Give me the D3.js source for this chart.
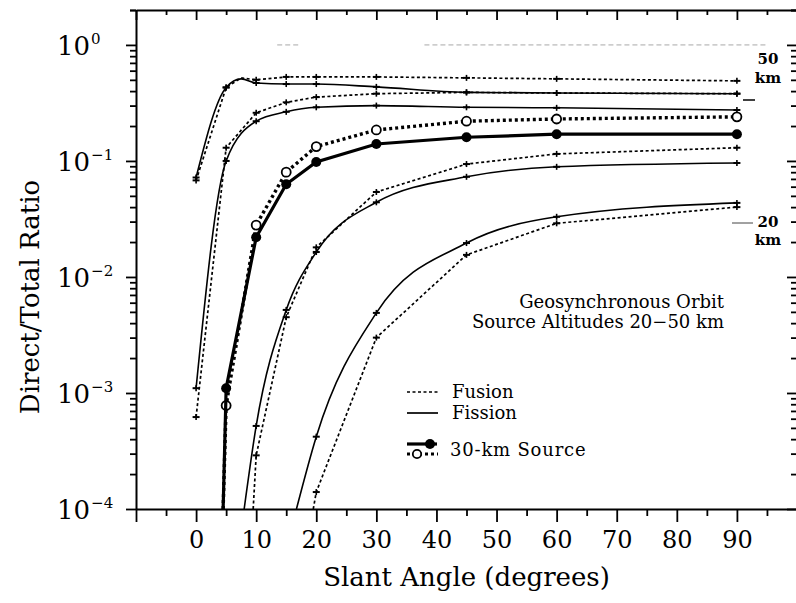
<!DOCTYPE html>
<html><head><meta charset="utf-8">
<script src="https://cdn.jsdelivr.net/npm/d3@7"></script>
<style>
html,body{margin:0;padding:0;background:#fff;}
svg text{font-family:"DejaVu Serif",serif;fill:#000;}
</style></head>
<body>
<svg id="chart" width="796" height="603"></svg>
<script>
// ---------- data ----------
const xTickLabels = [0,10,20,30,40,50,60,70,80,90];
const yTickExponents = [0,-1,-2,-3,-4];

// 50 km source
const fus50Angles = [0,5,7.5,10,15,20,30,45,60,90];
const fus50Values = [0.068,0.43,0.52,0.50,0.53,0.53,0.53,0.52,0.51,0.49];
const fis50Angles = [0,5,7.5,10,15,20,30,45,60,90];
const fis50Values = [0.072,0.43,0.51,0.47,0.46,0.46,0.435,0.39,0.385,0.38];
// 40 km source
const fus40Angles = [0,5,10,15,20,30,45,60,90];
const fus40Values = [0.00062,0.13,0.26,0.32,0.355,0.38,0.39,0.385,0.38];
const fis40Angles = [0,5,10,15,20,30,45,60,90];
const fis40Values = [0.0011,0.10,0.22,0.265,0.29,0.30,0.29,0.287,0.275];
// 30 km source (highlighted)
const fus30Angles = [4.5,5,10,15,20,30,45,60,90];
const fus30Values = [0.0001,0.00078,0.028,0.08,0.133,0.185,0.22,0.23,0.24];
const fis30Angles = [4.5,5,10,15,20,30,45,60,90];
const fis30Values = [0.0001,0.0011,0.022,0.063,0.098,0.14,0.16,0.17,0.17];
// 25 km source
const fus25Angles = [9.5,10,15,20,30,45,60,90];
const fus25Values = [0.0001,0.00029,0.0045,0.018,0.054,0.094,0.115,0.13];
const fis25Angles = [8,10,15,20,30,45,60,90];
const fis25Values = [0.0001,0.00052,0.0052,0.0164,0.044,0.073,0.089,0.096];
// 20 km source
const fus20Angles = [19.5,20,30,45,60,90];
const fus20Values = [0.0001,0.00014,0.003,0.0155,0.029,0.040];
const fis20Angles = [16.7,20,30,45,60,90];
const fis20Values = [0.0001,0.00042,0.0049,0.0196,0.033,0.0435];

const legendLabels = ["Fusion","Fission","30-km Source"];
const noteLines = ["Geosynchronous Orbit","Source Altitudes 20\u221250 km"];
const altLabels = [{alt:"50",v:0.68},{alt:"20",v:0.027}];

// ---------- setup ----------
const svg = d3.select("#chart");
const x = d3.scaleLinear().domain([-10,100]).range([136,797]);
const y = d3.scaleLog().domain([1e-4,2]).range([509,10]);

const zip = (a,v)=>a.map((d,i)=>({a:d,v:v[i]}));
const series = [
  {pts:zip(fus50Angles,fus50Values), type:"fus"},
  {pts:zip(fis50Angles,fis50Values), type:"fis"},
  {pts:zip(fus40Angles,fus40Values), type:"fus"},
  {pts:zip(fis40Angles,fis40Values), type:"fis"},
  {pts:zip(fus25Angles,fus25Values), type:"fus"},
  {pts:zip(fis25Angles,fis25Values), type:"fis"},
  {pts:zip(fus20Angles,fus20Values), type:"fus"},
  {pts:zip(fis20Angles,fis20Values), type:"fis"},
  {pts:zip(fus30Angles,fus30Values), type:"fus30"},
  {pts:zip(fis30Angles,fis30Values), type:"fis30"}
];

svg.append("clipPath").attr("id","clip").append("rect")
  .attr("x",x(-10)).attr("y",y(2)).attr("width",x(100)-x(-10)).attr("height",y(1e-4)-y(2));

// faint reference line at ratio = 1
const refG = svg.append("g").attr("stroke","#a8a8a8").attr("stroke-width",1).attr("stroke-dasharray","5,3");
refG.append("line").attr("x1",x(38)).attr("x2",x(95)).attr("y1",y(1)).attr("y2",y(1));
refG.append("line").attr("x1",x(13.5)).attr("x2",x(17)).attr("y1",y(1)).attr("y2",y(1));

// ---------- axes ----------
const xTicks = d3.range(-10,101,5);
const logTicks = [];
for (let e=-4;e<=0;e++) for (let m=1;m<=9;m++){ const v=m*Math.pow(10,e); if (v<=2.0001) logTicks.push(v); }
logTicks.push(2);
const isMajorY = v => Math.abs(Math.log10(v)-Math.round(Math.log10(v)))<1e-9;

function styleAxis(g){ g.selectAll("path.domain").attr("stroke","#000").attr("stroke-width",2);
  g.selectAll(".tick line").attr("stroke","#000").attr("stroke-width",1.8); }

const gB = svg.append("g").attr("transform",`translate(0,${y(1e-4)})`)
  .call(d3.axisBottom(x).tickValues(xTicks).tickSize(7).tickSizeOuter(0)
    .tickFormat(d=> xTickLabels.includes(d) ? d : ""));
gB.selectAll(".tick line").attr("y2",d=> d%10===0 ? 13 : 7);
gB.selectAll(".tick text").attr("y",22).attr("font-size",24).attr("font-family","DejaVu Serif");
styleAxis(gB);

const gT = svg.append("g").attr("transform",`translate(0,${y(2)})`)
  .call(d3.axisBottom(x).tickValues(xTicks).tickSize(6).tickSizeOuter(0).tickFormat(""));
gT.selectAll(".tick line").attr("y2",d=> d%10===0 ? 10 : 5);
styleAxis(gT);

const gL = svg.append("g").attr("transform",`translate(${x(-10)},0)`)
  .call(d3.axisLeft(y).tickValues(logTicks).tickSize(6).tickSizeOuter(0).tickFormat(""));
gL.selectAll(".tick line").attr("x2",d=> isMajorY(d) ? -10 : -6);
styleAxis(gL);

const gR = svg.append("g").attr("transform",`translate(${x(100)},0)`)
  .call(d3.axisLeft(y).tickValues(logTicks).tickSize(6).tickSizeOuter(0).tickFormat(""));
gR.selectAll(".tick line").attr("x2",d=> isMajorY(d) ? -10 : -6);
styleAxis(gR);

// y tick labels with superscripts
const yl = svg.append("g").selectAll("text").data(yTickExponents).join("text")
  .attr("x",57).attr("y",e=>y(Math.pow(10,e))+10).attr("font-size",26);
yl.append("tspan").text("10");
yl.append("tspan").attr("dy",-11).attr("dx",1).attr("font-size",15)
  .text(e=> e===0 ? "0" : "\u2212"+(-e));

// axis titles
svg.append("text").attr("x",(x(-10)+x(100))/2).attr("y",586).attr("text-anchor","middle")
  .attr("font-size",26).text("Slant Angle (degrees)");
svg.append("text").attr("transform",`translate(39,${297}) rotate(-90)`).attr("text-anchor","middle")
  .attr("font-size",26).text("Direct/Total Ratio");

// ---------- curves ----------
const plot = svg.append("g").attr("clip-path","url(#clip)");
const lineLin = d3.line().x(d=>x(d.a)).y(d=>y(d.v));
const lineSmooth = d3.line().x(d=>x(d.a)).y(d=>y(d.v)).curve(d3.curveMonotoneX);
const styles = {
  fus:{w:1.7,dash:"3,2.5",gen:lineLin},
  fis:{w:1.6,dash:null,gen:lineSmooth},
  fus30:{w:3.4,dash:"3,3",gen:lineLin},
  fis30:{w:3.2,dash:null,gen:lineLin}
};
series.forEach(s=>{
  const st = styles[s.type];
  plot.append("path").datum(s.pts).attr("d",st.gen).attr("fill","none")
    .attr("stroke","#000").attr("stroke-width",st.w)
    .attr("stroke-dasharray",st.dash);
  const marked = s.pts.filter(p=> p.a%5===0);
  if (s.type==="fus30"){
    plot.selectAll(null).data(marked).join("circle").attr("cx",d=>x(d.a)).attr("cy",d=>y(d.v))
      .attr("r",4.5).attr("fill","#fff").attr("stroke","#000").attr("stroke-width",1.8);
  } else if (s.type==="fis30"){
    plot.selectAll(null).data(marked).join("circle").attr("cx",d=>x(d.a)).attr("cy",d=>y(d.v))
      .attr("r",5).attr("fill","#000");
  } else {
    const g = plot.selectAll(null).data(marked).join("g")
      .attr("transform",d=>`translate(${x(d.a)},${y(d.v)})`);
    g.append("line").attr("x1",-3.5).attr("x2",3.5).attr("stroke","#000").attr("stroke-width",2);
    g.append("line").attr("y1",-3).attr("y2",3).attr("stroke","#000").attr("stroke-width",1.6);
  }
});

// ---------- altitude labels ----------
const lab = svg.append("g").attr("font-size",15).attr("font-weight","bold")
  .selectAll("text").data(altLabels).join("text")
  .attr("text-anchor","middle").attr("y",d=>y(d.v));
lab.append("tspan").attr("x",768).text(d=>d.alt);
lab.append("tspan").attr("x",768).attr("dy",18.5).text("km");
svg.append("line").attr("x1",743).attr("x2",755).attr("y1",100).attr("y2",100).attr("stroke","#000").attr("stroke-width",1.5);
svg.append("line").attr("x1",732).attr("x2",753).attr("y1",223).attr("y2",223).attr("stroke","#444").attr("stroke-width",1);

// ---------- note ----------
svg.append("g").attr("font-size",18).selectAll("text").data(noteLines).join("text")
  .attr("x",724).attr("y",(d,i)=>308+i*20).attr("text-anchor","end").text(d=>d);

// ---------- legend ----------
const lg = svg.append("g");
lg.append("line").attr("x1",407).attr("x2",438).attr("y1",392).attr("y2",392)
  .attr("stroke","#000").attr("stroke-width",1.7).attr("stroke-dasharray","3,2.5");
lg.append("line").attr("x1",407).attr("x2",438).attr("y1",413).attr("y2",413)
  .attr("stroke","#000").attr("stroke-width",1.7);
lg.append("line").attr("x1",407).attr("x2",437).attr("y1",444).attr("y2",444)
  .attr("stroke","#000").attr("stroke-width",3.2);
lg.append("circle").attr("cx",430).attr("cy",444).attr("r",5).attr("fill","#000");
lg.append("line").attr("x1",407).attr("x2",438).attr("y1",454).attr("y2",454)
  .attr("stroke","#000").attr("stroke-width",3.2).attr("stroke-dasharray","3,3");
lg.append("circle").attr("cx",417).attr("cy",454).attr("r",4.2).attr("fill","#fff").attr("stroke","#000").attr("stroke-width",1.8);
lg.selectAll("text").data(legendLabels).join("text")
  .attr("x",(d,i)=> i<2 ? 452 : 450).attr("y",(d,i)=>[398,419,456][i])
  .attr("font-size",18).attr("letter-spacing",(d,i)=> i===2 ? 0.8 : 0).text(d=>d);
</script>
</body></html>
